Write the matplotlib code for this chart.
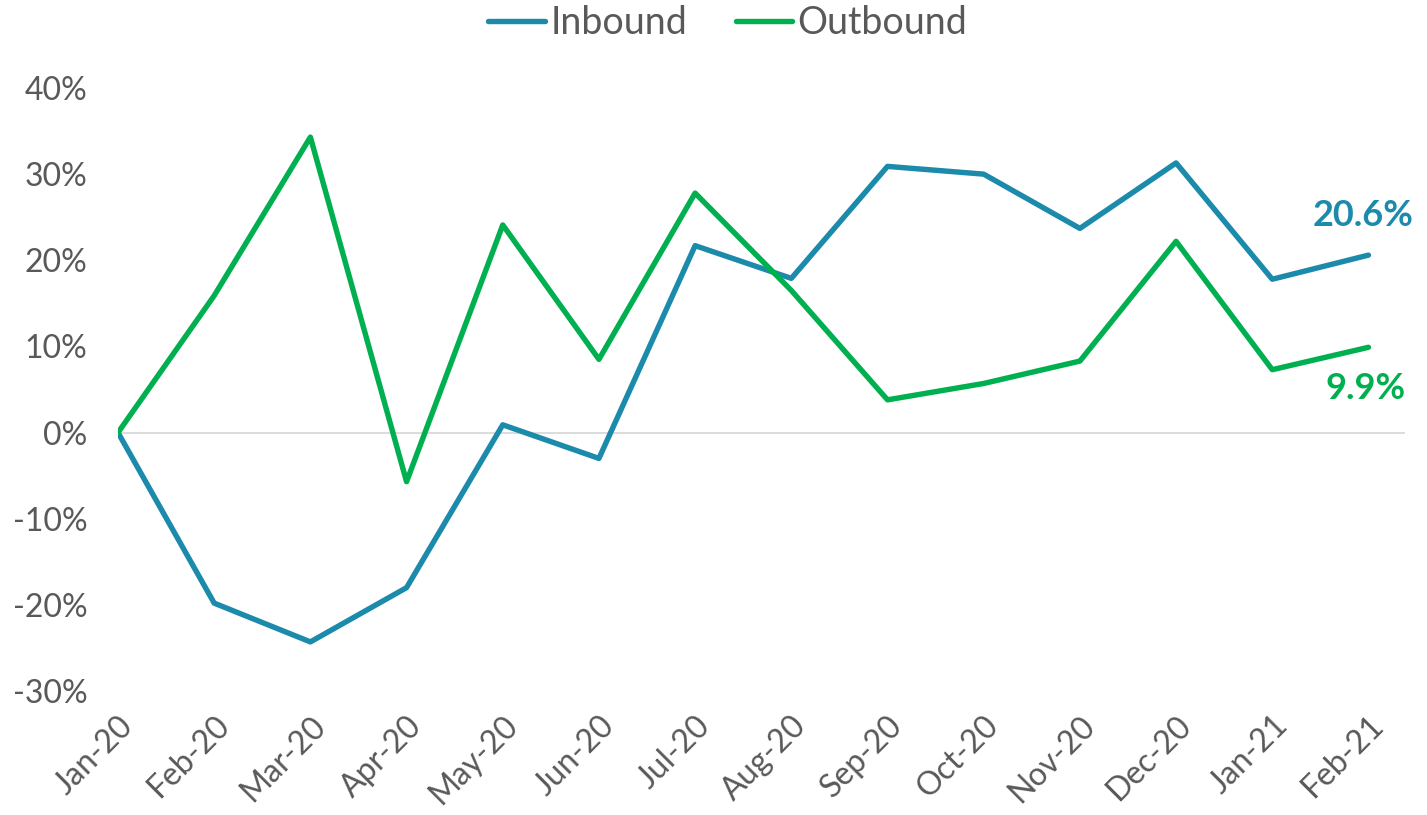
import numpy as np
import matplotlib.pyplot as plt
from matplotlib.ticker import PercentFormatter

months = ["Jan-20", "Feb-20", "Mar-20", "Apr-20", "May-20", "Jun-20", "Jul-20",
          "Aug-20", "Sep-20", "Oct-20", "Nov-20", "Dec-20", "Jan-21", "Feb-21"]
inbound = [0.0, -19.8, -24.3, -18.0, 0.9, -3.0, 21.7, 17.9, 30.9, 30.0, 23.7, 31.3, 17.8, 20.6]
outbound = [0.0, 15.9, 34.3, -5.7, 24.1, 8.5, 27.8, 16.5, 3.8, 5.7, 8.3, 22.2, 7.3, 9.9]

blue = "#1B8AAB"
green = "#00B050"
grey = "#595959"

plt.rcParams['font.family'] = ['Lato', 'DejaVu Sans']
plt.rcParams['axes.unicode_minus'] = False

fig = plt.figure(figsize=(14.27, 8.15), dpi=100)
ax = fig.add_axes([118 / 1427, 1 - 691 / 815, (1405 - 118) / 1427, (691 - 88) / 815])

x = np.arange(len(months))
ax.plot(x, inbound, color=blue, lw=3.9, label="Inbound", solid_joinstyle="round",
        solid_capstyle="round")
ax.plot(x, outbound, color=green, lw=3.9, label="Outbound", solid_joinstyle="round",
        solid_capstyle="round")

ax.axhline(0, color="#D9D9D9", lw=1.3, zorder=0)

ax.set_xlim(0, 13.38)
ax.set_ylim(-30, 40)
ax.set_yticks(np.arange(-30, 41, 10))
ax.yaxis.set_major_formatter(PercentFormatter(decimals=0))
ax.set_xticks(x)
ax.set_xticklabels(months, rotation=45, ha="right", rotation_mode="anchor")

for s in ax.spines.values():
    s.set_visible(False)
ax.tick_params(length=0, labelsize=23, colors=grey, pad=14)
ax.tick_params(axis="y", pad=22)

ax.annotate(f"{inbound[-1]:.1f}%", (x[-1], inbound[-1]), xytext=(-40, 17),
            textcoords="offset points", color=blue, fontsize=26, fontweight="bold",
            ha="left", va="bottom")
ax.annotate(f"{outbound[-1]:.1f}%", (x[-1], outbound[-1]), xytext=(-31, -18),
            textcoords="offset points", color=green, fontsize=26, fontweight="bold",
            ha="left", va="top")

leg = fig.legend(loc="upper center", bbox_to_anchor=(0.51, 1.035), ncol=2, frameon=False,
                 fontsize=27, handlelength=1.5, columnspacing=1.3, handletextpad=0.15)
for t in leg.get_texts():
    t.set_color(grey)
for h in leg.legend_handles:
    h.set_solid_capstyle("round")

fig.savefig("out.png", dpi=100)
